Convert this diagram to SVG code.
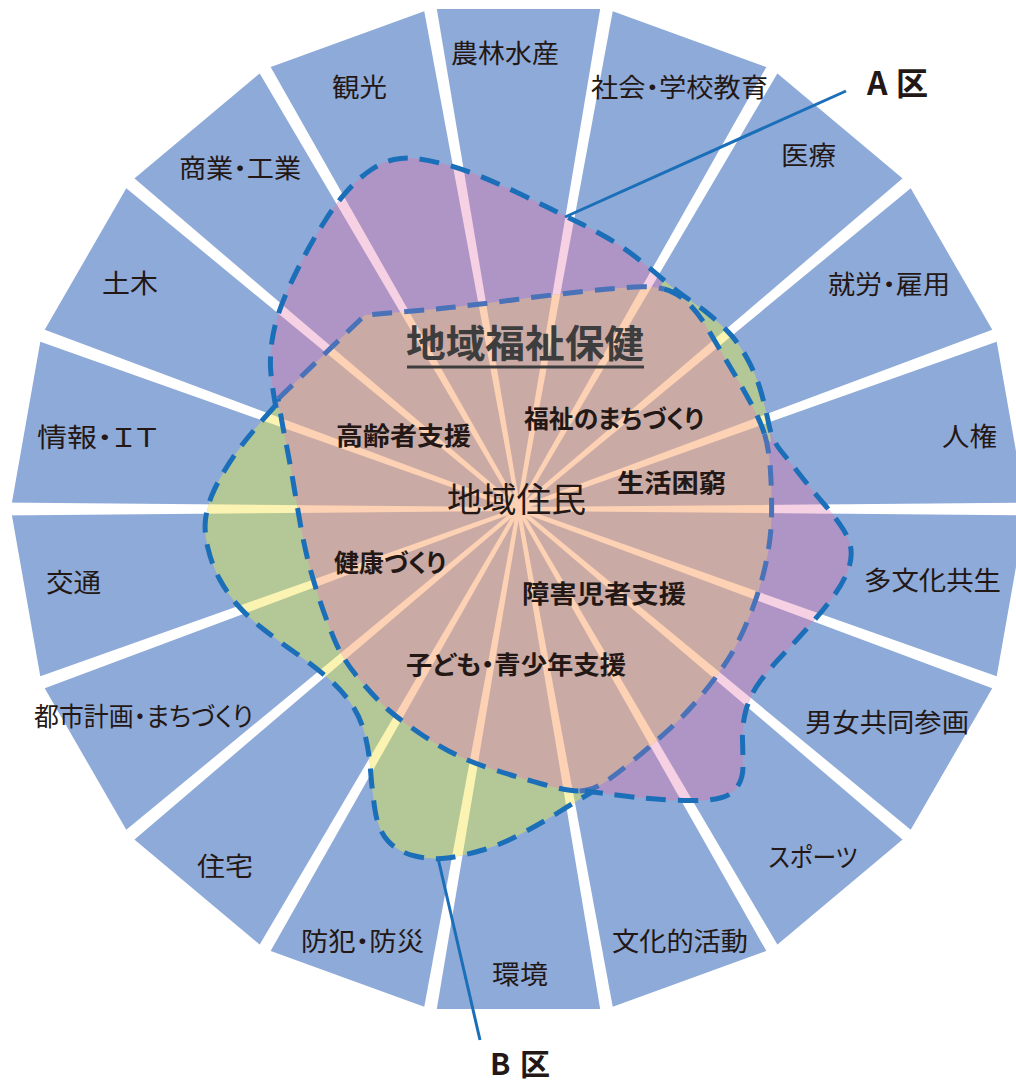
<svg xmlns="http://www.w3.org/2000/svg" xmlns:xlink="http://www.w3.org/1999/xlink" width="1016" height="1083" viewBox="0 0 1016 1083">
<style>
.sec{fill:#8eaad8}
.t{font-family:"Noto Sans CJK JP","Noto Sans",sans-serif;font-size:26px;fill:#231815;text-anchor:middle;font-feature-settings:"palt"}
.b{font-weight:700;font-size:25px}
.dash{fill:none;stroke:#1b6fb9;stroke-width:5;stroke-dasharray:20 12}
.dashm{fill:none;stroke:#4a72b9;stroke-width:5;stroke-dasharray:20 12}
.lead{fill:none;stroke:#1b6fb9;stroke-width:3}
</style>
<defs>
<polygon id="ray" points="0,-2 520,-6.5 520,6.5 0,2"/>
<g id="rays">
<use href="#ray"/><use href="#ray" transform="rotate(20)"/><use href="#ray" transform="rotate(40)"/><use href="#ray" transform="rotate(60)"/><use href="#ray" transform="rotate(80)"/><use href="#ray" transform="rotate(100)"/><use href="#ray" transform="rotate(120)"/><use href="#ray" transform="rotate(140)"/><use href="#ray" transform="rotate(160)"/><use href="#ray" transform="rotate(180)"/><use href="#ray" transform="rotate(200)"/><use href="#ray" transform="rotate(220)"/><use href="#ray" transform="rotate(240)"/><use href="#ray" transform="rotate(260)"/><use href="#ray" transform="rotate(280)"/><use href="#ray" transform="rotate(300)"/><use href="#ray" transform="rotate(320)"/><use href="#ray" transform="rotate(340)"/>
</g>
<clipPath id="cA"><path d="M276,408 Q271,380 270.5,367.5 Q270,355 272,341 Q274,327 278.5,313.5 Q283,300 290,285 Q297,270 305.5,254 Q314,238 325.5,220 Q337,202 348.5,189.5 Q360,177 371.5,169.5 Q383,162 394,159.5 Q405,157 416.5,158.5 Q428,160 444,164 Q460,168 478.5,175.5 Q497,183 515,191.5 Q533,200 549,208 Q565,216 577.5,222 Q590,228 605,236.5 Q620,245 635,256.5 Q650,268 662.5,279 Q675,290 687.5,298.5 Q700,307 711,316 Q722,325 731,335 Q740,345 748.5,361 Q757,377 761.5,393.5 Q766,410 769,425 Q772,440 781,451 Q790,462 801,476 Q812,490 824,504 Q836,518 843,529 Q850,540 851,550 Q852,560 847.5,571.5 Q843,583 834,595.5 Q825,608 811,624 Q797,640 783.5,654 Q770,668 760,681.5 Q750,695 746,710 Q742,725 742.5,740 Q743,755 743,766.5 Q743,778 737.5,786.5 Q732,795 720,798 Q708,801 684,800.5 Q660,800 637.5,797.5 Q615,795 585,791 L518.5,509 Z"/></clipPath>
<clipPath id="cB"><path d="M275,406 Q257,426 245.5,440.5 Q234,455 225.5,469 Q217,483 212,495 Q207,507 205.5,519.5 Q204,532 208,548.5 Q212,565 219.5,579 Q227,593 237.5,605 Q248,617 262.5,628.5 Q277,640 293.5,651.5 Q310,663 325,675.5 Q340,688 350,702 Q360,716 364.5,733 Q369,750 370.5,770 Q372,790 375,810 Q378,830 388,841 Q398,852 415,856 Q432,860 447,858 Q462,856 481,850.5 Q500,845 520,834.5 Q540,824 557.5,813 Q575,802 592,792 L518.5,509 Z"/><path d="M662.5,279 Q675,290 687.5,298.5 Q700,307 711,316 Q722,325 731,335 Q740,345 748.5,361 Q757,377 761.5,393.5 Q766,410 769,425 L771,442 L700,420 L660,300 Z"/></clipPath>
<clipPath id="cC"><path d="M365,315 Q417,311 450,307.5 Q483,304 516.5,299.5 Q550,295 583.5,291.5 Q617,288 634.5,287 Q652,286 664,289 Q676,292 687,302 Q698,312 709,331 Q720,350 730.5,367.5 Q741,385 750.5,402.5 Q760,420 764.5,434 Q769,448 770.5,471.5 Q772,495 771.5,517.5 Q771,540 765.5,565 Q760,590 750,615 Q740,640 729.5,657 Q719,674 703,693.5 Q687,713 669.5,729 Q652,745 632,761.5 Q612,778 601,784.5 Q590,791 578.5,791 Q567,791 542,784 Q517,777 495,770 Q473,763 456.5,755 Q440,747 420,733.5 Q400,720 388.5,710 Q377,700 360,680 Q343,660 335,641 Q327,622 320,601 Q313,580 308.5,562.5 Q304,545 300.5,525 Q297,505 293.5,484 Q290,463 286,443 Q282,423 278,399 L365,315 Z"/></clipPath>
</defs>

<g id="sectors">
<polygon id="s-nourin" class="sec" points="518.5,509 430.4,9 606.6,9"/>
<polygon id="s-kyouiku" class="sec" points="518.5,509 606.6,9 772.4,69.3"/>
<polygon id="s-iryou" class="sec" points="518.5,509 772.4,69.3 907.4,182.6"/>
<polygon id="s-shuurou" class="sec" points="518.5,509 907.4,182.6 995.6,335.4"/>
<polygon id="s-jinken" class="sec" points="518.5,509 995.6,335.4 1026.2,509"/>
<polygon id="s-tabunka" class="sec" points="518.5,509 1026.2,509 995.6,682.6"/>
<polygon id="s-danjo" class="sec" points="518.5,509 995.6,682.6 907.4,835.4"/>
<polygon id="s-sports" class="sec" points="518.5,509 907.4,835.4 772.4,948.7"/>
<polygon id="s-bunka" class="sec" points="518.5,509 772.4,948.7 606.6,1009"/>
<polygon id="s-kankyou" class="sec" points="518.5,509 606.6,1009 430.4,1009"/>
<polygon id="s-bouhan" class="sec" points="518.5,509 430.4,1009 264.6,948.7"/>
<polygon id="s-juutaku" class="sec" points="518.5,509 264.6,948.7 129.6,835.4"/>
<polygon id="s-toshi" class="sec" points="518.5,509 129.6,835.4 41.4,682.6"/>
<polygon id="s-koutsuu" class="sec" points="518.5,509 41.4,682.6 10.8,509"/>
<polygon id="s-jouhou" class="sec" points="518.5,509 10.8,509 41.4,335.4"/>
<polygon id="s-doboku" class="sec" points="518.5,509 41.4,335.4 129.6,182.6"/>
<polygon id="s-shougyou" class="sec" points="518.5,509 129.6,182.6 264.6,69.3"/>
<polygon id="s-kankou" class="sec" points="518.5,509 264.6,69.3 430.4,9"/>
</g>

<use href="#rays" transform="translate(518.5,509)" fill="#ffffff"/>

<g id="zone-A">
<path fill="#ae95c5" d="M276,408 Q271,380 270.5,367.5 Q270,355 272,341 Q274,327 278.5,313.5 Q283,300 290,285 Q297,270 305.5,254 Q314,238 325.5,220 Q337,202 348.5,189.5 Q360,177 371.5,169.5 Q383,162 394,159.5 Q405,157 416.5,158.5 Q428,160 444,164 Q460,168 478.5,175.5 Q497,183 515,191.5 Q533,200 549,208 Q565,216 577.5,222 Q590,228 605,236.5 Q620,245 635,256.5 Q650,268 662.5,279 Q675,290 687.5,298.5 Q700,307 711,316 Q722,325 731,335 Q740,345 748.5,361 Q757,377 761.5,393.5 Q766,410 769,425 Q772,440 781,451 Q790,462 801,476 Q812,490 824,504 Q836,518 843,529 Q850,540 851,550 Q852,560 847.5,571.5 Q843,583 834,595.5 Q825,608 811,624 Q797,640 783.5,654 Q770,668 760,681.5 Q750,695 746,710 Q742,725 742.5,740 Q743,755 743,766.5 Q743,778 737.5,786.5 Q732,795 720,798 Q708,801 684,800.5 Q660,800 637.5,797.5 Q615,795 585,791 L518.5,509 Z"/>
<g clip-path="url(#cA)"><use href="#rays" transform="translate(518.5,509)" fill="#f6d0e3"/></g>
</g>

<g id="zone-B">
<path fill="#b4c796" d="M275,406 Q257,426 245.5,440.5 Q234,455 225.5,469 Q217,483 212,495 Q207,507 205.5,519.5 Q204,532 208,548.5 Q212,565 219.5,579 Q227,593 237.5,605 Q248,617 262.5,628.5 Q277,640 293.5,651.5 Q310,663 325,675.5 Q340,688 350,702 Q360,716 364.5,733 Q369,750 370.5,770 Q372,790 375,810 Q378,830 388,841 Q398,852 415,856 Q432,860 447,858 Q462,856 481,850.5 Q500,845 520,834.5 Q540,824 557.5,813 Q575,802 592,792 L518.5,509 Z"/>
<path fill="#b4c796" d="M662.5,279 Q675,290 687.5,298.5 Q700,307 711,316 Q722,325 731,335 Q740,345 748.5,361 Q757,377 761.5,393.5 Q766,410 769,425 L771,442 L700,420 L660,300 Z"/>
<g clip-path="url(#cB)"><use href="#rays" transform="translate(518.5,509)" fill="#faf3b1"/></g>
</g>

<g id="zone-center">
<path fill="#c9aaa5" d="M365,315 Q417,311 450,307.5 Q483,304 516.5,299.5 Q550,295 583.5,291.5 Q617,288 634.5,287 Q652,286 664,289 Q676,292 687,302 Q698,312 709,331 Q720,350 730.5,367.5 Q741,385 750.5,402.5 Q760,420 764.5,434 Q769,448 770.5,471.5 Q772,495 771.5,517.5 Q771,540 765.5,565 Q760,590 750,615 Q740,640 729.5,657 Q719,674 703,693.5 Q687,713 669.5,729 Q652,745 632,761.5 Q612,778 601,784.5 Q590,791 578.5,791 Q567,791 542,784 Q517,777 495,770 Q473,763 456.5,755 Q440,747 420,733.5 Q400,720 388.5,710 Q377,700 360,680 Q343,660 335,641 Q327,622 320,601 Q313,580 308.5,562.5 Q304,545 300.5,525 Q297,505 293.5,484 Q290,463 286,443 Q282,423 278,399 L365,315 Z"/>
<g clip-path="url(#cC)"><use href="#rays" transform="translate(518.5,509)" fill="#fdd1b3"/></g>
</g>

<g id="connectors">
<path class="dashm" d="M278,399 L365,315 Q417,311 450,307.5 Q483,304 516.5,299.5 Q550,295 583.5,291.5 Q617,288 634.5,287 Q652,286 664,289"/>
<path class="dash" d="M664,289 Q676,292 687,302 Q698,312 709,331 Q720,350 730.5,367.5 Q741,385 750.5,402.5 Q760,420 764.5,434"/>
<path class="dashm" d="M764.5,434 Q769,448 770.5,471.5 Q772,495 771.5,517.5 Q771,540 765.5,565 Q760,590 750,615 Q740,640 729.5,657 Q719,674 703,693.5 Q687,713 669.5,729 Q652,745 632,761.5 Q612,778 601,784.5 Q590,791 578.5,791"/>
<path class="dash" d="M578.5,791 Q567,791 542,784 Q517,777 495,770 Q473,763 456.5,755 Q440,747 420,733.5 Q400,720 388.5,710 Q377,700 360,680 Q343,660 335,641 Q327,622 320,601 Q313,580 308.5,562.5 Q304,545 300.5,525 Q297,505 293.5,484 Q290,463 286,443 Q282,423 278,399"/>
<path class="dash" d="M276,408 Q271,380 270.5,367.5 Q270,355 272,341 Q274,327 278.5,313.5 Q283,300 290,285 Q297,270 305.5,254 Q314,238 325.5,220 Q337,202 348.5,189.5 Q360,177 371.5,169.5 Q383,162 394,159.5 Q405,157 416.5,158.5 Q428,160 444,164 Q460,168 478.5,175.5 Q497,183 515,191.5 Q533,200 549,208 Q565,216 577.5,222 Q590,228 605,236.5 Q620,245 635,256.5 Q650,268 662.5,279 Q675,290 687.5,298.5 Q700,307 711,316 Q722,325 731,335 Q740,345 748.5,361 Q757,377 761.5,393.5 Q766,410 769,425 Q772,440 781,451 Q790,462 801,476 Q812,490 824,504 Q836,518 843,529 Q850,540 851,550 Q852,560 847.5,571.5 Q843,583 834,595.5 Q825,608 811,624 Q797,640 783.5,654 Q770,668 760,681.5 Q750,695 746,710 Q742,725 742.5,740 Q743,755 743,766.5 Q743,778 737.5,786.5 Q732,795 720,798 Q708,801 684,800.5 Q660,800 637.5,797.5 Q615,795 585,791"/>
<path class="dash" d="M275,406 Q257,426 245.5,440.5 Q234,455 225.5,469 Q217,483 212,495 Q207,507 205.5,519.5 Q204,532 208,548.5 Q212,565 219.5,579 Q227,593 237.5,605 Q248,617 262.5,628.5 Q277,640 293.5,651.5 Q310,663 325,675.5 Q340,688 350,702 Q360,716 364.5,733 Q369,750 370.5,770 Q372,790 375,810 Q378,830 388,841 Q398,852 415,856 Q432,860 447,858 Q462,856 481,850.5 Q500,845 520,834.5 Q540,824 557.5,813 Q575,802 592,792"/>
<line class="lead" x1="565" y1="217" x2="846" y2="91"/>
<line class="lead" x1="438" y1="858" x2="480" y2="1040"/>
</g>

<g id="labels">
<g id="n-nourin"><text class="t" x="505" y="63" textLength="108" lengthAdjust="spacingAndGlyphs">農林水産</text></g>
<g id="n-kyouiku"><text class="t" x="679.5" y="97" textLength="177" lengthAdjust="spacingAndGlyphs">社会・学校教育</text></g>
<g id="n-iryou"><text class="t" x="808.5" y="165" textLength="55" lengthAdjust="spacingAndGlyphs">医療</text></g>
<g id="n-shuurou"><text class="t" x="889" y="294" textLength="122" lengthAdjust="spacingAndGlyphs">就労・雇用</text></g>
<g id="n-jinken"><text class="t" x="969.5" y="446" textLength="55" lengthAdjust="spacingAndGlyphs">人権</text></g>
<g id="n-tabunka"><text class="t" x="932.5" y="590" textLength="137" lengthAdjust="spacingAndGlyphs">多文化共生</text></g>
<g id="n-danjo"><text class="t" x="887" y="732" textLength="164" lengthAdjust="spacingAndGlyphs">男女共同参画</text></g>
<g id="n-sports"><text class="t" x="813" y="867" textLength="89" lengthAdjust="spacingAndGlyphs">スポーツ</text></g>
<g id="n-bunka"><text class="t" x="680" y="951" textLength="136" lengthAdjust="spacingAndGlyphs">文化的活動</text></g>
<g id="n-kankyou"><text class="t" x="520" y="984" textLength="56" lengthAdjust="spacingAndGlyphs">環境</text></g>
<g id="n-bouhan"><text class="t" x="362.5" y="951" textLength="123" lengthAdjust="spacingAndGlyphs">防犯・防災</text></g>
<g id="n-juutaku"><text class="t" x="225" y="876" textLength="56" lengthAdjust="spacingAndGlyphs">住宅</text></g>
<g id="n-toshi"><text class="t" x="143.5" y="726" textLength="219" lengthAdjust="spacingAndGlyphs">都市計画・まちづくり</text></g>
<g id="n-koutsuu"><text class="t" x="73.5" y="592" textLength="55" lengthAdjust="spacingAndGlyphs">交通</text></g>
<g id="n-jouhou"><text class="t" x="97.5" y="447" textLength="121" lengthAdjust="spacingAndGlyphs">情報・ＩＴ</text></g>
<g id="n-doboku"><text class="t" x="130" y="293" textLength="56" lengthAdjust="spacingAndGlyphs">土木</text></g>
<g id="n-shougyou"><text class="t" x="240" y="178" textLength="122" lengthAdjust="spacingAndGlyphs">商業・工業</text></g>
<g id="n-kankou"><text class="t" x="359.5" y="97" textLength="55" lengthAdjust="spacingAndGlyphs">観光</text></g>

<g id="n-center-title"><text class="t b" x="525" y="357" style="font-size:38px;fill:#3d3d3d" textLength="238" lengthAdjust="spacingAndGlyphs">地域福祉保健</text><rect x="407" y="365.5" width="237" height="3" fill="#3d3d3d"/></g>
<g id="n-juumin"><text class="t" x="516.5" y="512" style="font-size:34px" textLength="139" lengthAdjust="spacingAndGlyphs">地域住民</text></g>
<g id="n-koureisha"><text class="t b" x="403.5" y="444.5" textLength="135" lengthAdjust="spacingAndGlyphs">高齢者支援</text></g>
<g id="n-fukushi"><text class="t b" x="614" y="427.5" textLength="180" lengthAdjust="spacingAndGlyphs">福祉のまちづくり</text></g>
<g id="n-seikatsu"><text class="t b" x="671.5" y="491.5" textLength="109" lengthAdjust="spacingAndGlyphs">生活困窮</text></g>
<g id="n-kenkou"><text class="t b" x="390" y="571.5" textLength="112" lengthAdjust="spacingAndGlyphs">健康づくり</text></g>
<g id="n-shougai"><text class="t b" x="604" y="602.5" textLength="164" lengthAdjust="spacingAndGlyphs">障害児者支援</text></g>
<g id="n-kodomo"><text class="t b" x="516" y="673.5" textLength="220" lengthAdjust="spacingAndGlyphs">子ども・青少年支援</text></g>

<g id="n-A"><text class="t b" x="867" y="95" style="font-size:32px;text-anchor:start" textLength="61" lengthAdjust="spacing">A区</text></g>
<g id="n-B"><text class="t b" x="490" y="1075" style="font-size:30px;text-anchor:start" textLength="60" lengthAdjust="spacing">B区</text></g>
</g>
</svg>
